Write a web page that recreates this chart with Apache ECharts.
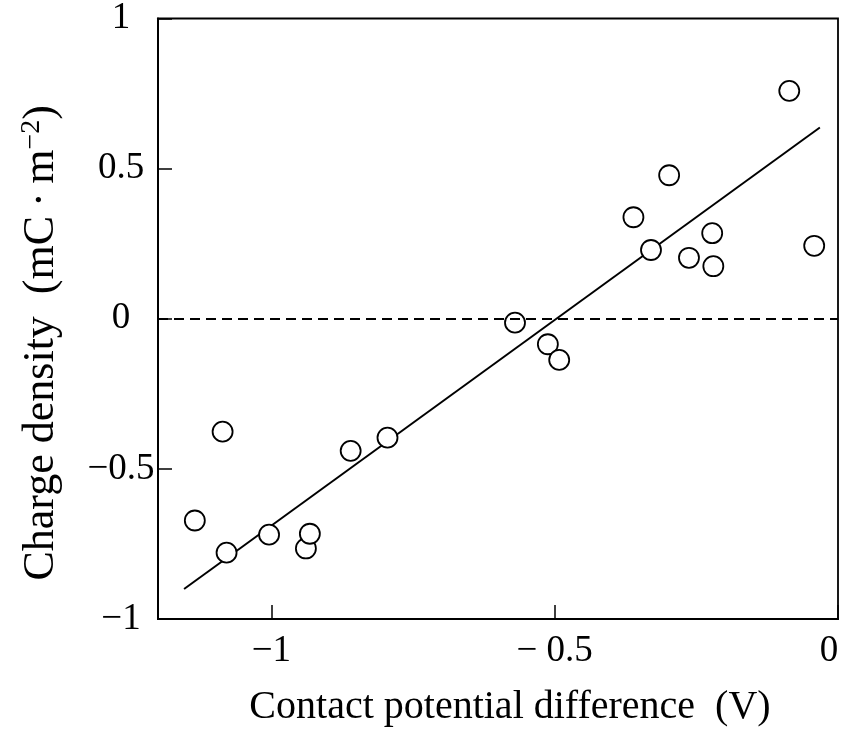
<!DOCTYPE html>
<html>
<head>
<meta charset="utf-8">
<script src="https://cdn.jsdelivr.net/npm/echarts@6/dist/echarts.min.js"></script>
<style>
  html, body { margin: 0; padding: 0; background: #fff; }
  #chart { width: 848px; height: 732px; }
</style>
</head>
<body>
<div id="chart"></div>
<script>
// measured points (contact potential difference, charge density)
var cpd = [-1.135, -1.086, -1.079, -1.004, -0.939, -0.932, -0.860, -0.795,
           -0.570, -0.512, -0.492, -0.361, -0.330, -0.298, -0.263, -0.222,
           -0.220, -0.086, -0.042];
var charge = [-0.672, -0.376, -0.779, -0.719, -0.765, -0.716, -0.440, -0.396,
              -0.013, -0.085, -0.137, 0.338, 0.229, 0.478, 0.203, 0.285,
              0.175, 0.759, 0.243];
// fitted line end points
var fitX = [-1.154, -0.032];
var fitY = [-0.900, 0.637];
// tick labels
var xTickValues = [-1, -0.5, 0];
var xTickLabels = ['\u22121', '\u2212 0.5', '{r|0}'];
var yTickValues = [-1, -0.5, 0, 0.5, 1];
var yTickLabels = ['\u22121', '\u22120.5', '0', '0.5', '1'];

var FONT = 'Liberation Serif';

function lookup(values, labels) {
    return function (v) {
        for (var i = 0; i < values.length; i++) {
            if (Math.abs(values[i] - v) < 1e-6) return labels[i];
        }
        return '';
    };
}

var points = [];
for (var i = 0; i < cpd.length; i++) points.push([cpd[i], charge[i]]);
var fit = [];
for (var j = 0; j < fitX.length; j++) fit.push([fitX[j], fitY[j]]);

var option = {
    animation: false,
    backgroundColor: '#fff',
    grid: {
        left: 158, right: 10, top: 16, bottom: 111,
        show: true,
        borderColor: '#000',
        borderWidth: 1.8
    },
    xAxis: {
        type: 'value',
        min: -1.2,
        max: 0,
        name: 'Contact potential difference  (V)',
        nameLocation: 'middle',
        nameGap: 68,
        nameTextStyle: { fontFamily: FONT, fontSize: 40, color: '#000', padding: [0, 0, 0, 24] },
        axisLine: { show: true, onZero: false, lineStyle: { color: '#000', width: 2 } },
        axisTick: { show: true, inside: true, length: 14, customValues: xTickValues,
                    lineStyle: { color: '#000', width: 1.5 } },
        axisLabel: { customValues: xTickValues, formatter: lookup(xTickValues, xTickLabels),
                     margin: 14, fontFamily: FONT, fontSize: 37, color: '#000',
                     rich: { r: { fontFamily: FONT, fontSize: 37, color: '#000', padding: [0, 18, 0, 0] } } },
        splitLine: { show: false }
    },
    yAxis: {
        type: 'value',
        min: -1,
        max: 1,
        interval: 0.5,
        name: 'Charge density  (mC\u2009\u00b7\u2009m{sup|\u22122})',
        nameLocation: 'middle',
        nameGap: 94,
        nameTextStyle: {
            fontFamily: FONT, fontSize: 44, color: '#000', padding: [0, 48, 0, 0],
            rich: { sup: { fontFamily: FONT, fontSize: 28, color: '#000', verticalAlign: 'top', padding: [0, 0, 18, 0] } }
        },
        axisLine: { show: true, onZero: false, lineStyle: { color: '#000', width: 2 } },
        axisTick: { show: true, inside: true, length: 14, lineStyle: { color: '#000', width: 1.5 } },
        axisLabel: { formatter: lookup(yTickValues, yTickLabels), align: 'center',
                     margin: 37, fontFamily: FONT, fontSize: 37, color: '#000' },
        splitLine: { show: false }
    },
    series: [
        {
            name: 'fit',
            type: 'line',
            data: fit,
            showSymbol: false,
            symbol: 'none',
            lineStyle: { color: '#000', width: 2 },
            z: 2,
            markLine: {
                silent: true,
                symbol: 'none',
                label: { show: false },
                lineStyle: { color: '#000', width: 1.8, type: [10, 6] },
                data: [{ yAxis: 0 }]
            }
        },
        {
            name: 'measured',
            type: 'scatter',
            data: points,
            symbol: 'circle',
            symbolSize: 20,
            itemStyle: { color: '#fff', borderColor: '#000', borderWidth: 1.8, opacity: 1 },
            z: 3
        }
    ]
};

var chart = echarts.init(document.getElementById('chart'));
chart.setOption(option);
</script>
</body>
</html>
